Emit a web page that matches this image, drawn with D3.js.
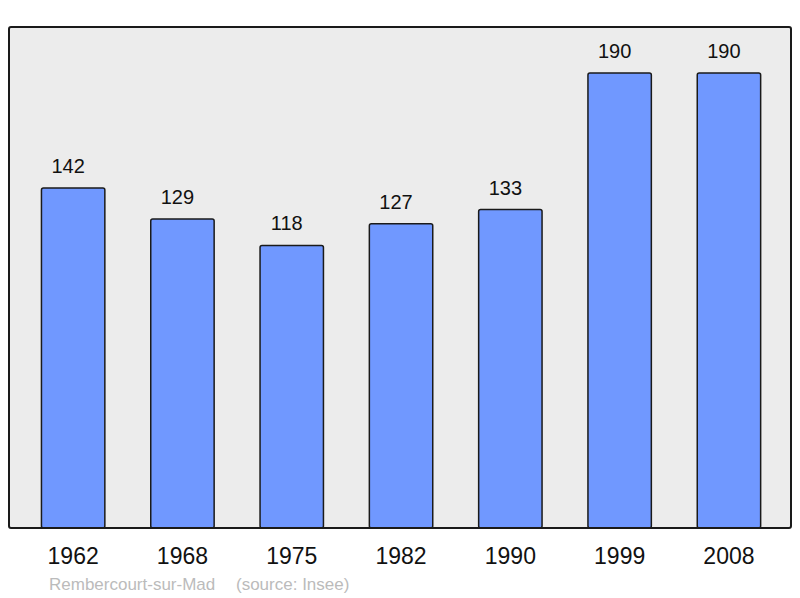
<!DOCTYPE html>
<html>
<head>
<meta charset="utf-8">
<script src="https://cdn.jsdelivr.net/npm/d3@7"></script>
<style>
body { margin: 0; background: #fff; }
svg { display: block; font-family: "Liberation Sans", Arial, sans-serif; }
</style>
</head>
<body>
<svg id="chart" width="800" height="598"></svg>
<script>
var years = ['1962', '1968', '1975', '1982', '1990', '1999', '2008'];
var population = [142, 129, 118, 127, 133, 190, 190];
var place = 'Rembercourt-sur-Mad';
var source = '(source: Insee)';

var svg = d3.select('#chart');

var frame = {left: 9, right: 791, top: 27, bottom: 528};

// plot background
svg.append('rect')
    .attr('x', frame.left)
    .attr('y', frame.top)
    .attr('width', frame.right - frame.left)
    .attr('height', frame.bottom - frame.top)
    .attr('rx', 2)
    .style('fill', '#ececec')
    .style('stroke', 'none');

var x = d3.scaleBand()
    .domain(years)
    .range([18.5, 783.6])
    .padding(0);

var y = d3.scaleLinear()
    .domain([0, 190])
    .range([frame.bottom, 73]);

var barWidth = x.bandwidth() * 0.58;

var bar = svg.selectAll('.bar')
    .data(years)
    .enter().append('g').classed('bar', true);

bar.append('rect')
    .attr('x', function(d) { return x(d) + (x.bandwidth() - barWidth) / 2; })
    .attr('y', function(d, i) { return y(population[i]); })
    .attr('width', barWidth)
    .attr('height', function(d, i) { return y(0) - y(population[i]); })
    .attr('rx', 2)
    .style('fill', '#7098ff')
    .style('stroke', '#1a1a1a')
    .style('stroke-width', 1.5);

bar.append('text')
    .attr('x', function(d) { return x(d) + x.bandwidth() / 2 - 5; })
    .attr('y', function(d, i) { return y(population[i]) - 15; })
    .attr('text-anchor', 'middle')
    .style('font-size', '20px')
    .style('fill', '#111')
    .text(function(d, i) { return population[i]; });

// frame outline on top of the bars
svg.append('rect')
    .attr('x', frame.left)
    .attr('y', frame.top)
    .attr('width', frame.right - frame.left)
    .attr('height', frame.bottom - frame.top)
    .attr('rx', 2)
    .style('fill', 'none')
    .style('stroke', '#1a1a1a')
    .style('stroke-width', 2);

// x axis labels
var xAxis = svg.append('g')
    .attr('transform', 'translate(0,' + frame.bottom + ')')
    .call(d3.axisBottom(x).tickSize(0).tickPadding(20));
xAxis.select('.domain').remove();
xAxis.selectAll('text')
    .style('font-family', '"Liberation Sans", Arial, sans-serif')
    .style('font-size', '23px')
    .style('fill', '#111');

svg.append('text')
    .attr('x', 49)
    .attr('y', 590)
    .style('font-size', '17px')
    .style('fill', '#bbbbbb')
    .text(place);

svg.append('text')
    .attr('x', 236)
    .attr('y', 590)
    .style('font-size', '17px')
    .style('fill', '#bbbbbb')
    .text(source);
</script>
</body>
</html>
